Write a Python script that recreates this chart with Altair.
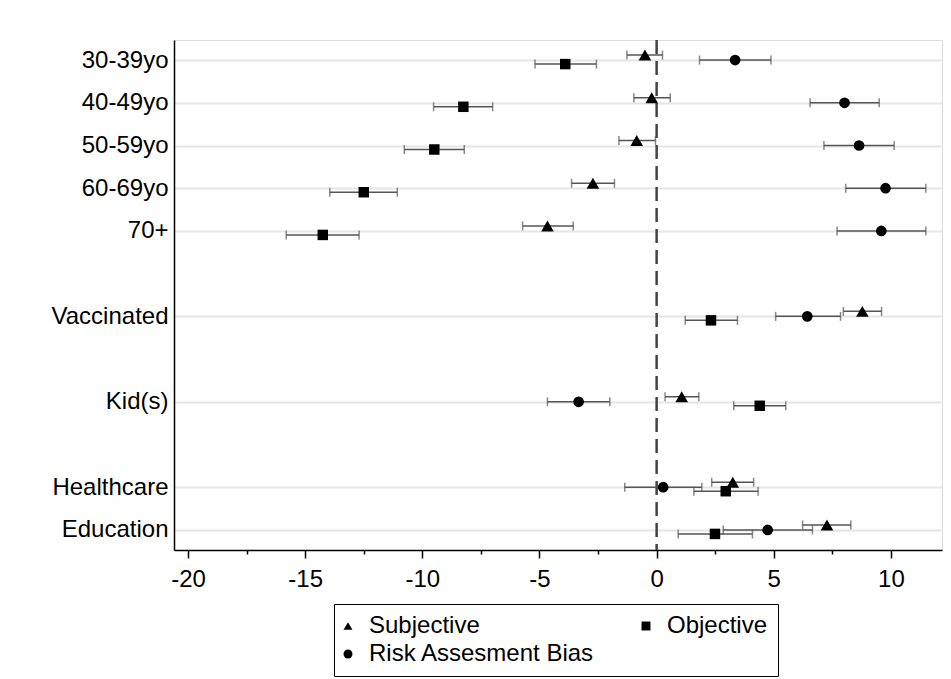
import altair as alt
import pandas as pd

# ---- data ----
categories = ["30-39yo", "40-49yo", "50-59yo", "60-69yo", "70+",
              "Vaccinated", "Kid(s)", "Healthcare", "Education"]
row_pos = [1, 2, 3, 4, 5, 7, 9, 11, 12]

subj_est = [-0.50, -0.21, -0.85, -2.72, -4.66, 8.78, 1.07, 3.25, 7.27]
subj_lo = [-1.27, -0.97, -1.61, -3.63, -5.72, 7.97, 0.36, 2.35, 6.23]
subj_hi = [0.25, 0.58, -0.05, -1.80, -3.56, 9.60, 1.80, 4.14, 8.29]

obj_est = [-3.90, -8.25, -9.49, -12.50, -14.25, 2.32, 4.40, 2.95, 2.49]
obj_lo = [-5.19, -9.52, -10.77, -13.95, -15.81, 1.22, 3.29, 1.59, 0.92]
obj_hi = [-2.57, -7.00, -8.21, -11.07, -12.70, 3.45, 5.51, 4.33, 4.09]

bias_est = [3.35, 8.02, 8.64, 9.77, 9.59, 6.43, -3.33, 0.28, 4.74]
bias_lo = [1.83, 6.55, 7.14, 8.07, 7.70, 5.08, -4.66, -1.36, 2.84]
bias_hi = [4.88, 9.50, 10.14, 11.49, 11.49, 7.85, -2.00, 1.93, 6.65]

series_names = ["Subjective", "Objective", "Risk Assesment Bias"]
x_ticks = [-20, -17.5, -15, -12.5, -10, -7.5, -5, -2.5, 0, 2.5, 5, 7.5, 10]

rows = []
for name, est, lo, hi in [
    ("Subjective", subj_est, subj_lo, subj_hi),
    ("Objective", obj_est, obj_lo, obj_hi),
    ("Risk Assesment Bias", bias_est, bias_lo, bias_hi),
]:
    for c, r, e, l, h in zip(categories, row_pos, est, lo, hi):
        rows.append({"label": c, "row": r, "series": name, "est": e, "lo": l, "hi": h})
df = pd.DataFrame(rows)

FONT = "Liberation Sans"
W, H = 768, 510
XDOM = [-20.6, 12.18]
YDOM = [0.53, 12.47]

label_expr = ""
for c, r in zip(categories, row_pos):
    label_expr += f"datum.value == {r} ? '{c}' : "
label_expr += "''"

major_test = "abs(datum.value % 5) < 0.01"

xscale = alt.Scale(domain=XDOM, nice=False, zero=False)
yscale = alt.Scale(domain=YDOM, reverse=True, nice=False, zero=False)

x_axis = alt.Axis(values=x_ticks, title=None, grid=False,
                  tickSize={"condition": {"test": major_test, "value": 8}, "value": 4},
                  tickWidth=1.5, tickColor="black", domainColor="black", domainWidth=1.5,
                  labelExpr=f"{major_test} ? toString(datum.value) : ''",
                  labelFontSize=24, labelFont=FONT, labelColor="black", labelPadding=9,
                  labelFlush=False, labelOverlap=False)
y_axis = alt.Axis(values=row_pos, title=None, labelExpr=label_expr, ticks=False, tickSize=0,
                  grid=True, gridColor="#e6e6e6", gridWidth=2,
                  domainColor="black", domainWidth=1.5,
                  labelFontSize=24, labelFont=FONT, labelColor="black", labelPadding=6)

shape_scale = alt.Scale(domain=series_names, range=["triangle-up", "square", "circle"])
legend = alt.Legend(title=None, orient="none", legendX=160, legendY=564, columns=2,
                    direction="horizontal",
                    columnPadding=46, rowPadding=4, padding=10,
                    strokeColor="black", fillColor="white",
                    labelFontSize=24, labelFont=FONT, labelColor="black",
                    labelOffset=9, symbolOffset=-8, labelLimit=500,
                    symbolSize=80, symbolFillColor="black", symbolStrokeColor="black",
                    symbolStrokeWidth=0)

base = alt.Chart(df)

zero_line = alt.Chart(pd.DataFrame({"z": [0]})).mark_rule(
    color="#444444", strokeWidth=2.5, strokeDash=[14, 7]
).encode(x=alt.X("z:Q", scale=xscale, axis=x_axis))

offsets = {"Subjective": -5, "Objective": 4, "Risk Assesment Bias": 0}
sizes = {"Subjective": 160, "Objective": 110, "Risk Assesment Bias": 115}
layers = [zero_line]
for name in series_names:
    off = offsets[name]
    sub = base.transform_filter(alt.datum.series == name)
    bar = sub.mark_rule(color="#555555", strokeWidth=1.5, yOffset=off).encode(
        x=alt.X("lo:Q", scale=xscale, axis=x_axis), x2="hi:Q",
        y=alt.Y("row:Q", scale=yscale, axis=y_axis),
    )
    cap_lo = sub.mark_tick(color="#555555", thickness=1.5, size=9, orient="vertical",
                           yOffset=off).encode(
        x=alt.X("lo:Q", scale=xscale), y=alt.Y("row:Q", scale=yscale))
    cap_hi = sub.mark_tick(color="#555555", thickness=1.5, size=9, orient="vertical",
                           yOffset=off).encode(
        x=alt.X("hi:Q", scale=xscale), y=alt.Y("row:Q", scale=yscale))
    pt = sub.mark_point(filled=True, color="black", opacity=1, size=sizes[name],
                        yOffset=off).encode(
        x=alt.X("est:Q", scale=xscale),
        y=alt.Y("row:Q", scale=yscale),
        shape=alt.Shape("series:N", scale=shape_scale, legend=legend),
    )
    layers += [bar, cap_lo, cap_hi, pt]

chart = alt.layer(*layers).properties(
    width=W, height=H,
    autosize=alt.AutoSizeParams(type="none"),
    padding={"left": 174, "top": 40, "right": 9, "bottom": 129},
).configure_view(stroke=None).configure(background="white")

chart.save("out.html", embed_options={"renderer": "svg", "actions": False})
